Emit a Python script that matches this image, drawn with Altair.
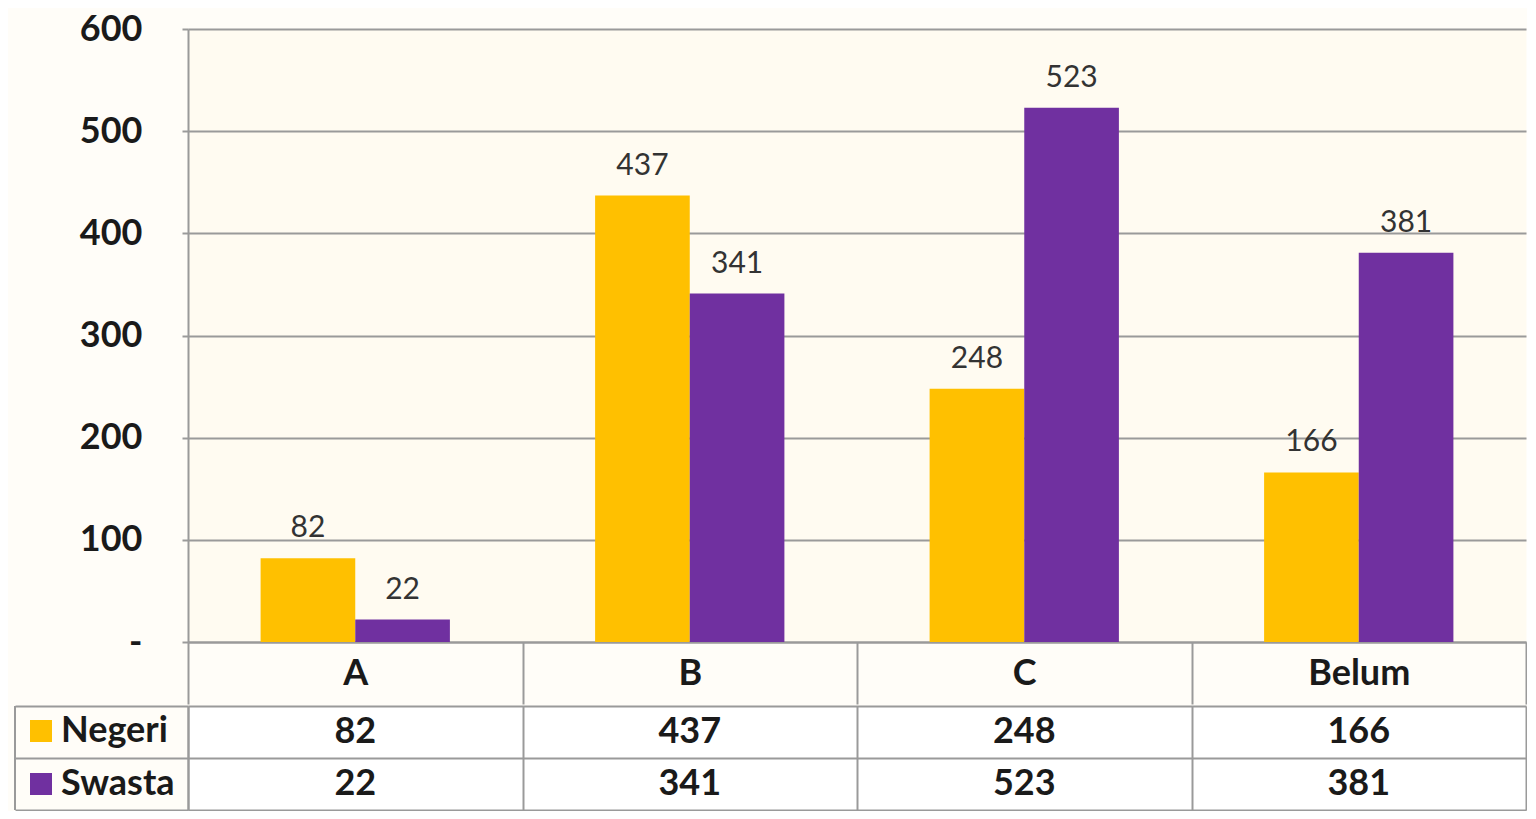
import altair as alt
import pandas as pd

# ---- data ----
categories = ["A", "B", "C", "Belum"]
series_names = ["Negeri", "Swasta"]
negeri = [82, 437, 248, 166]
swasta = [22, 341, 523, 381]
y_ticks = [0, 100, 200, 300, 400, 500, 600]

records = []
for s, vals in zip(series_names, [negeri, swasta]):
    for c, v in zip(categories, vals):
        records.append({"kategori": c, "status": s, "jumlah": v})
df = pd.DataFrame(records)

FONT = "Lato"
GOLD = "#FFC000"
PURPLE = "#7030A0"
LINE = "#9a9a9a"
TXT = "#1a1a1a"

W = 1338
H_TOP = 613
H_TAB = 104
HDR = 62

x_scale = alt.Scale(domain=categories, paddingInner=0, paddingOuter=0)

base = alt.Chart(df).encode(
    x=alt.X(
        "kategori:N",
        sort=categories,
        scale=x_scale,
        axis=alt.Axis(
            title=None, orient="bottom", labelAngle=0,
            labelFont=FONT, labelFontSize=36, labelFontWeight="bold", labelColor=TXT,
            labelBaseline="middle", labelPadding=-HDR / 2,
            ticks=True, tickBand="extent", tickSize=HDR, tickColor=LINE, tickWidth=2,
            domainColor=LINE, domainWidth=2, grid=False,
        ),
    ),
    xOffset=alt.XOffset("status:N", sort=series_names,
                        scale=alt.Scale(paddingInner=0, paddingOuter=0.767)),
    y=alt.Y(
        "jumlah:Q",
        scale=alt.Scale(domain=[0, 600], nice=False),
        axis=alt.Axis(
            title=None, values=y_ticks,
            labelExpr="datum.value == 0 ? '-' : datum.label",
            labelFont=FONT, labelFontSize=36, labelFontWeight="bold", labelColor=TXT,
            labelPadding=40, tickSize=6, tickColor=LINE, tickWidth=2,
            grid=True, gridColor=LINE, gridWidth=2,
            domainColor=LINE, domainWidth=2,
        ),
    ),
)

bars = base.mark_bar().encode(
    color=alt.Color(
        "status:N", sort=series_names,
        scale=alt.Scale(domain=series_names, range=[GOLD, PURPLE]),
        legend=alt.Legend(
            title=None, orient="none", legendX=-165, legendY=684,
            direction="vertical", symbolType="square", symbolSize=484,
            symbolStrokeWidth=0, symbolOpacity=1,
            labelFont=FONT, labelFontSize=36, labelFontWeight="bold",
            labelColor=TXT, labelOffset=2, rowPadding=17,
        ),
    )
)

labels = base.mark_text(
    font=FONT, fontSize=30, color="#333333", baseline="alphabetic", dy=-21
).encode(text="jumlah:Q")

top = alt.layer(bars, labels).properties(
    width=W, height=H_TOP, view=alt.ViewBackground(fill="#FFFBF1", stroke=None)
)

tab_base = alt.Chart(df).encode(
    x=alt.X(
        "kategori:N", sort=categories, scale=x_scale,
        axis=alt.Axis(title=None, labels=False, ticks=False, domain=False,
                      grid=True, tickBand="extent", gridColor=LINE, gridWidth=2),
    ),
    y=alt.Y(
        "status:N", sort=series_names,
        scale=alt.Scale(domain=series_names, paddingInner=0, paddingOuter=0),
        axis=alt.Axis(title=None, labels=False, ticks=True, tickSize=173,
                      tickBand="extent", tickColor=LINE, tickWidth=2,
                      grid=True, gridColor=LINE, gridWidth=2,
                      domainColor=LINE, domainWidth=2),
    ),
)

tab_text = tab_base.mark_text(
    font=FONT, fontSize=36, fontWeight="bold", color=TXT
).encode(text="jumlah:Q")

left_border = alt.Chart(pd.DataFrame({"k": [0]})).mark_rule(
    color=LINE, strokeWidth=2
).encode(x=alt.value(-173), y=alt.value(0), y2=alt.value(H_TAB))

table = alt.layer(tab_text, left_border).properties(
    width=W, height=H_TAB, view=alt.ViewBackground(fill="#FFFFFF", stroke=None)
)

chart = alt.vconcat(top, table, spacing=0).properties(
    padding={"left": 6, "top": 3, "right": 0, "bottom": 0},
    background="#FFFDF8",
).configure_view(stroke=None)

chart.save("out.html", embed_options={"renderer": "svg", "actions": False})
